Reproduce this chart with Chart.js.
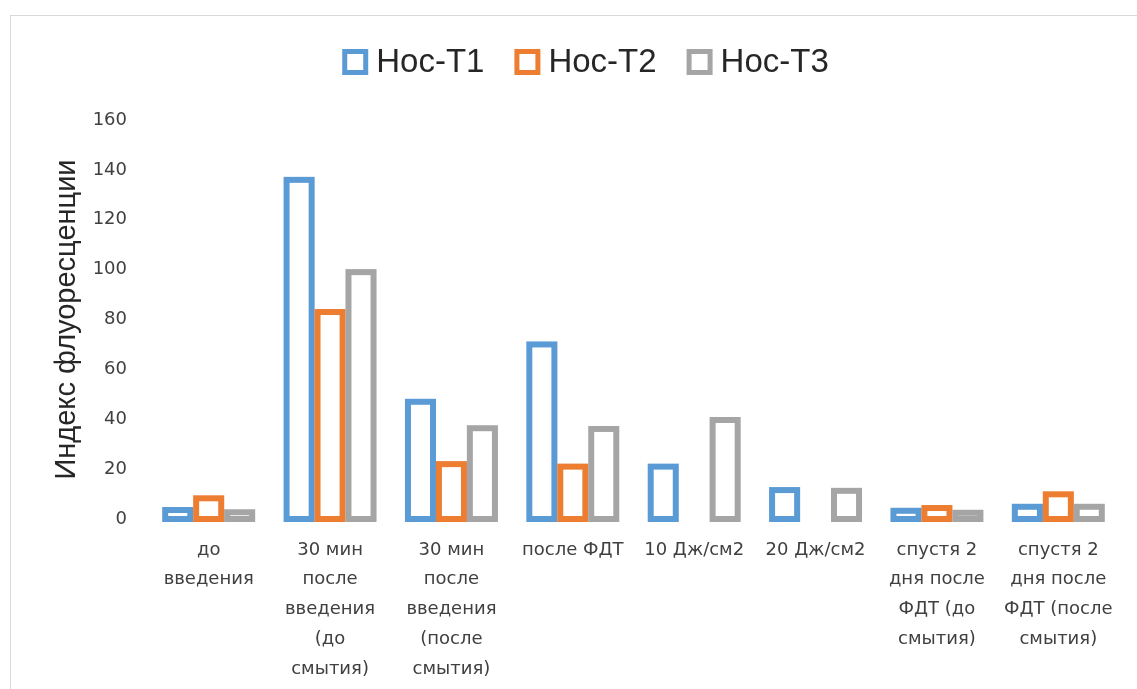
<!DOCTYPE html>
<html>
<head>
<meta charset="utf-8">
<script src="https://cdn.jsdelivr.net/npm/chart.js@4"></script>
<style>
  html, body { margin: 0; padding: 0; background: #fff; }
  #frame { position: absolute; left: 10px; top: 15px; width: 1140px; height: 690px; border: 1px solid #d9d9d9; box-sizing: border-box; }
  #wrap { position: absolute; left: 0; top: 0; width: 1137px; height: 689px; }
</style>
</head>
<body>
<div id="frame"></div>
<div id="wrap"><canvas id="c" width="1137" height="689"></canvas></div>
<script>
// Categories (wrapped into lines as shown under each group)
const categories = [
  ["до", "введения"],
  ["30 мин", "после", "введения", "(до", "смытия)"],
  ["30 мин", "после", "введения", "(после", "смытия)"],
  ["после ФДТ"],
  ["10 Дж/см2"],
  ["20 Дж/см2"],
  ["спустя 2", "дня после", "ФДТ (до", "смытия)"],
  ["спустя 2", "дня после", "ФДТ (после", "смытия)"]
];
const seriesNames = ["Нос-Т1", "Нос-Т2", "Нос-Т3"];
const nosT1 = [3.6, 136, 47, 70, 21, 11.6, 3.3, 4.9];
const nosT2 = [8.3, 83, 22, 21, null, null, 4.4, 9.9];
const nosT3 = [2.7, 99, 36.4, 36.1, 39.7, 11.3, 2.5, 4.9];
const yTicks = [0, 20, 40, 60, 80, 100, 120, 140, 160];
const colors = ["#5b9bd5", "#ed7d31", "#a5a5a5"];
const OUTLINE = 6;

const mk = (label, data, color) => ({
  label, data,
  backgroundColor: "rgba(0,0,0,0)",
  borderColor: color,
  borderWidth: 0,
  categoryPercentage: 0.765,
  barPercentage: 0.81
});

const tickFont = "'DejaVu Sans', sans-serif";

// Bar outlines stroked centred on each bar's edges (bar geometry comes from the bar elements)
const centredOutlines = {
  id: "centredOutlines",
  afterDatasetsDraw(chart) {
    const ctx = chart.ctx;
    ctx.save();
    ctx.lineWidth = OUTLINE;
    ctx.lineJoin = "miter";
    chart.data.datasets.forEach((ds, i) => {
      const meta = chart.getDatasetMeta(i);
      ctx.strokeStyle = ds.borderColor;
      meta.data.forEach((bar, j) => {
        if (ds.data[j] == null) return;
        const { x, y, base, width } = bar.getProps(["x", "y", "base", "width"], true);
        ctx.strokeRect(x - width / 2, y, width, base - y);
      });
    });
    ctx.restore();
  }
};

// Legend drawn as a row of outlined squares with series names
const outlineLegend = {
  id: "outlineLegend",
  afterDraw(chart) {
    const ctx = chart.ctx;
    const box = 26, gapText = 8, gapItem = 30, y = 62;
    ctx.save();
    ctx.font = "33px 'Liberation Sans', sans-serif";
    ctx.textBaseline = "middle";
    const items = chart.data.datasets.map(d => ({ text: d.label, color: d.borderColor, w: ctx.measureText(d.label).width }));
    const total = items.reduce((s, it) => s + box + gapText + it.w, 0) + gapItem * (items.length - 1);
    let x = chart.width / 2 + 17 - total / 2;
    for (const it of items) {
      ctx.lineWidth = 5;
      ctx.strokeStyle = it.color;
      ctx.strokeRect(x + 2.5, y - box / 2 + 2.5, box - 5, box - 5);
      ctx.fillStyle = "#262626";
      ctx.fillText(it.text, x + box + gapText, y + 1);
      x += box + gapText + it.w + gapItem;
    }
    ctx.restore();
  }
};

new Chart(document.getElementById("c"), {
  type: "bar",
  data: {
    labels: categories,
    datasets: [
      mk(seriesNames[0], nosT1, colors[0]),
      mk(seriesNames[1], nosT2, colors[1]),
      mk(seriesNames[2], nosT3, colors[2])
    ]
  },
  plugins: [centredOutlines, outlineLegend],
  options: {
    responsive: false,
    animation: false,
    layout: { padding: { left: 0, right: 18, top: 120, bottom: 0 } },
    plugins: {
      tooltip: { enabled: false },
      legend: { display: false }
    },
    scales: {
      x: {
        afterFit(scale) { scale.height = 170; },
        grid: { display: false, drawTicks: false },
        border: { display: false },
        ticks: {
          color: "#404040",
          font: { family: tickFont, size: 18, lineHeight: 1.66 },
          maxRotation: 0,
          autoSkip: false,
          padding: 16
        }
      },
      y: {
        min: 0, max: 160,
        afterBuildTicks(scale) { scale.ticks = yTicks.map(v => ({ value: v })); },
        afterFit(scale) { scale.width = 148; },
        grid: { display: false, drawTicks: false },
        border: { display: false },
        ticks: {
          color: "#404040",
          font: { family: tickFont, size: 18 },
          padding: 21
        },
        title: {
          display: true,
          text: "Индекс флуоресценции",
          color: "#262626",
          font: { family: "'Liberation Sans', sans-serif", size: 29 },
          padding: { top: 50, bottom: 0 }
        }
      }
    }
  }
});
</script>
</body>
</html>
